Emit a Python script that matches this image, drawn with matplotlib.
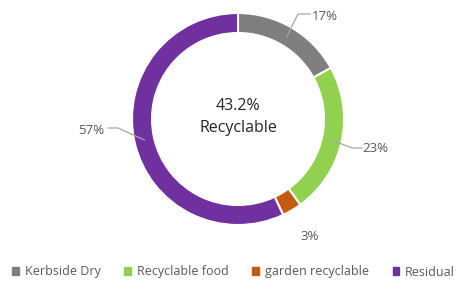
import numpy as np
import matplotlib.pyplot as plt

labels = ['Kerbside Dry', 'Recyclable food', 'garden recyclable', 'Residual']
values = [17, 23, 3, 57]
pct_labels = ['17%', '23%', '3%', '57%']
colors = ['#7f7f7f', '#92d050', '#c55a11', '#7030a0']
center_text = '43.2%\nRecyclable'

plt.rcParams['font.family'] = ['Open Sans', 'DejaVu Sans']

W, H = 467, 286
fig = plt.figure(figsize=(W / 100, H / 100), dpi=100)
ax = fig.add_axes([0, 0, 1, 1])

cx, cy, r = 238, H - 119, 106
wedges, _ = ax.pie(values, colors=colors, startangle=90, counterclock=False,
                   radius=r, center=(cx, cy), frame=True,
                   wedgeprops=dict(width=20, edgecolor='white', linewidth=1.5))
ax.set_xlim(0, W)
ax.set_ylim(0, H)
ax.set_aspect('equal')
ax.axis('off')

# label positions (text) and leader line elbows, in pixels
text_pos = [(325, 16), (375, 148), (310, 237), (91, 130)]
elbow = [(298, 14), (352, 148), None, (118, 128)]
line_end = [310, 362, None, 108]
for w, t, e, le, p in zip(wedges, text_pos, elbow, line_end, pct_labels):
    ang = np.deg2rad((w.theta1 + w.theta2) / 2)
    px = cx + (r - 10) * np.cos(ang)
    py = cy + (r - 10) * np.sin(ang)
    tx, ty = t[0], H - t[1]
    ax.text(tx, ty, p, ha='center', va='center', fontsize=9.5, color='#595959')
    if e is not None:
        ex, ey = e[0], H - e[1]
        ax.plot([px, ex, le], [py, ey, ey], color='#a6a6a6', lw=0.9)

ax.text(cx, cy + 2, center_text, ha='center', va='center', fontsize=11.5,
        color='#262626', linespacing=1.45)

handles = [plt.Rectangle((0, 0), 1, 1, color=c) for c in colors]
fig.legend(handles, labels, loc='center', bbox_to_anchor=(0.5, 1 - 272 / H),
           ncol=4, frameon=False, fontsize=9, handlelength=0.55, handleheight=0.55,
           handletextpad=0.45, columnspacing=1.9, labelcolor='#595959')

fig.savefig('out.png', dpi=100)
